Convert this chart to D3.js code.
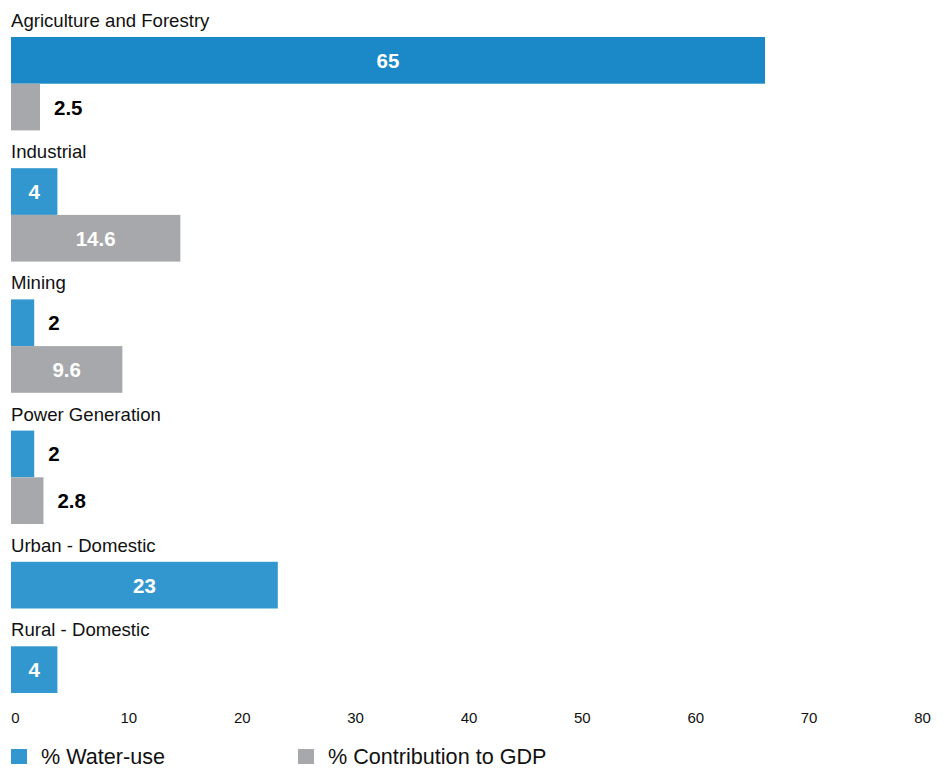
<!DOCTYPE html>
<html>
<head>
<meta charset="utf-8">
<script src="https://cdn.jsdelivr.net/npm/d3@7"></script>
<style>
  html, body { margin: 0; padding: 0; background: #fff; }
  svg { display: block; font-family: "Liberation Sans", Arial, Helvetica, sans-serif; }
</style>
</head>
<body>
<svg id="chart" width="949" height="769"></svg>
<script>
const categories = ["Agriculture and Forestry", "Industrial", "Mining", "Power Generation", "Urban - Domestic", "Rural - Domestic"];
const waterUse = [65, 4, 2, 2, 23, 4];
const gdpContribution = [2.5, 14.6, 9.6, 2.8, null, null];
const seriesNames = ["% Water-use", "% Contribution to GDP"];
const tickLabels = ["0", "10", "20", "30", "40", "50", "60", "70", "80"];

const W = 949, H = 769;
const svg = d3.select("#chart");

const colors = { water: "#3397cf", waterFirst: "#1b89c8", gdp: "#a7a8ab" };
const barH = 46.7, groupGap = 37.8, firstBarTop = 37, labelGap = 10;

const x = d3.scaleLinear().domain([0, 80]).range([11, 939]);

// Build groups
const groups = categories.map((c, i) => {
  const bars = [];
  if (waterUse[i] != null) bars.push({ series: 0, value: waterUse[i] });
  if (gdpContribution[i] != null) bars.push({ series: 1, value: gdpContribution[i] });
  return { name: c, index: i, bars };
});
let yCursor = firstBarTop;
groups.forEach(g => {
  g.top = yCursor;
  g.inner = d3.scaleBand().domain(g.bars.map(b => b.series)).range([0, g.bars.length * barH]).padding(0);
  yCursor += g.bars.length * barH + groupGap;
});

const gSel = svg.selectAll("g.group").data(groups).join("g")
  .attr("class", "group")
  .attr("transform", d => `translate(0,${d.top})`);

gSel.append("text")
  .attr("x", 11)
  .attr("y", -labelGap)
  .attr("font-size", 18.6)
  .attr("fill", "#111")
  .text(d => d.name);

gSel.each(function(g) {
  const sel = d3.select(this);
  const bars = sel.selectAll("g.bar").data(g.bars).join("g").attr("class", "bar");
  bars.append("rect")
    .attr("x", x(0))
    .attr("y", b => g.inner(b.series))
    .attr("width", b => x(b.value) - x(0))
    .attr("height", g.inner.bandwidth())
    .attr("fill", b => b.series === 1 ? colors.gdp : (g.index === 0 ? colors.waterFirst : colors.water));
  bars.append("text")
    .attr("font-size", 20.5)
    .attr("font-weight", "bold")
    .each(function(b) {
      const w = x(b.value) - x(0);
      const inside = w >= 45;
      d3.select(this)
        .attr("x", inside ? x(0) + w / 2 : x(b.value) + 14)
        .attr("y", g.inner(b.series) + g.inner.bandwidth() / 2 + 7.5)
        .attr("text-anchor", inside ? "middle" : "start")
        .attr("fill", inside ? "#fff" : "#000")
        .text(b.value);
    });
});

// Axis labels
const xTicks = d3.scalePoint().domain(tickLabels).range([15, 922]);
const axis = svg.append("g")
  .attr("transform", "translate(0,708)")
  .call(d3.axisBottom(xTicks).tickSize(0).tickPadding(0));
axis.select(".domain").remove();
axis.selectAll("text")
  .attr("font-size", 15)
  .attr("font-family", "Liberation Sans, Arial, Helvetica, sans-serif")
  .attr("fill", "#111")
  .attr("dy", "0.71em")
  .attr("y", 4);

// Legend
const legendX = [11, 298];
const legend = svg.selectAll("g.legend").data(seriesNames).join("g")
  .attr("class", "legend")
  .attr("transform", (d, i) => `translate(${legendX[i]},749)`);
legend.append("rect")
  .attr("width", 16).attr("height", 15)
  .attr("fill", (d, i) => i === 0 ? colors.water : colors.gdp);
legend.append("text")
  .attr("x", 30).attr("y", 15)
  .attr("font-size", 21.6)
  .attr("fill", "#111")
  .text(d => d);
</script>
</body>
</html>
